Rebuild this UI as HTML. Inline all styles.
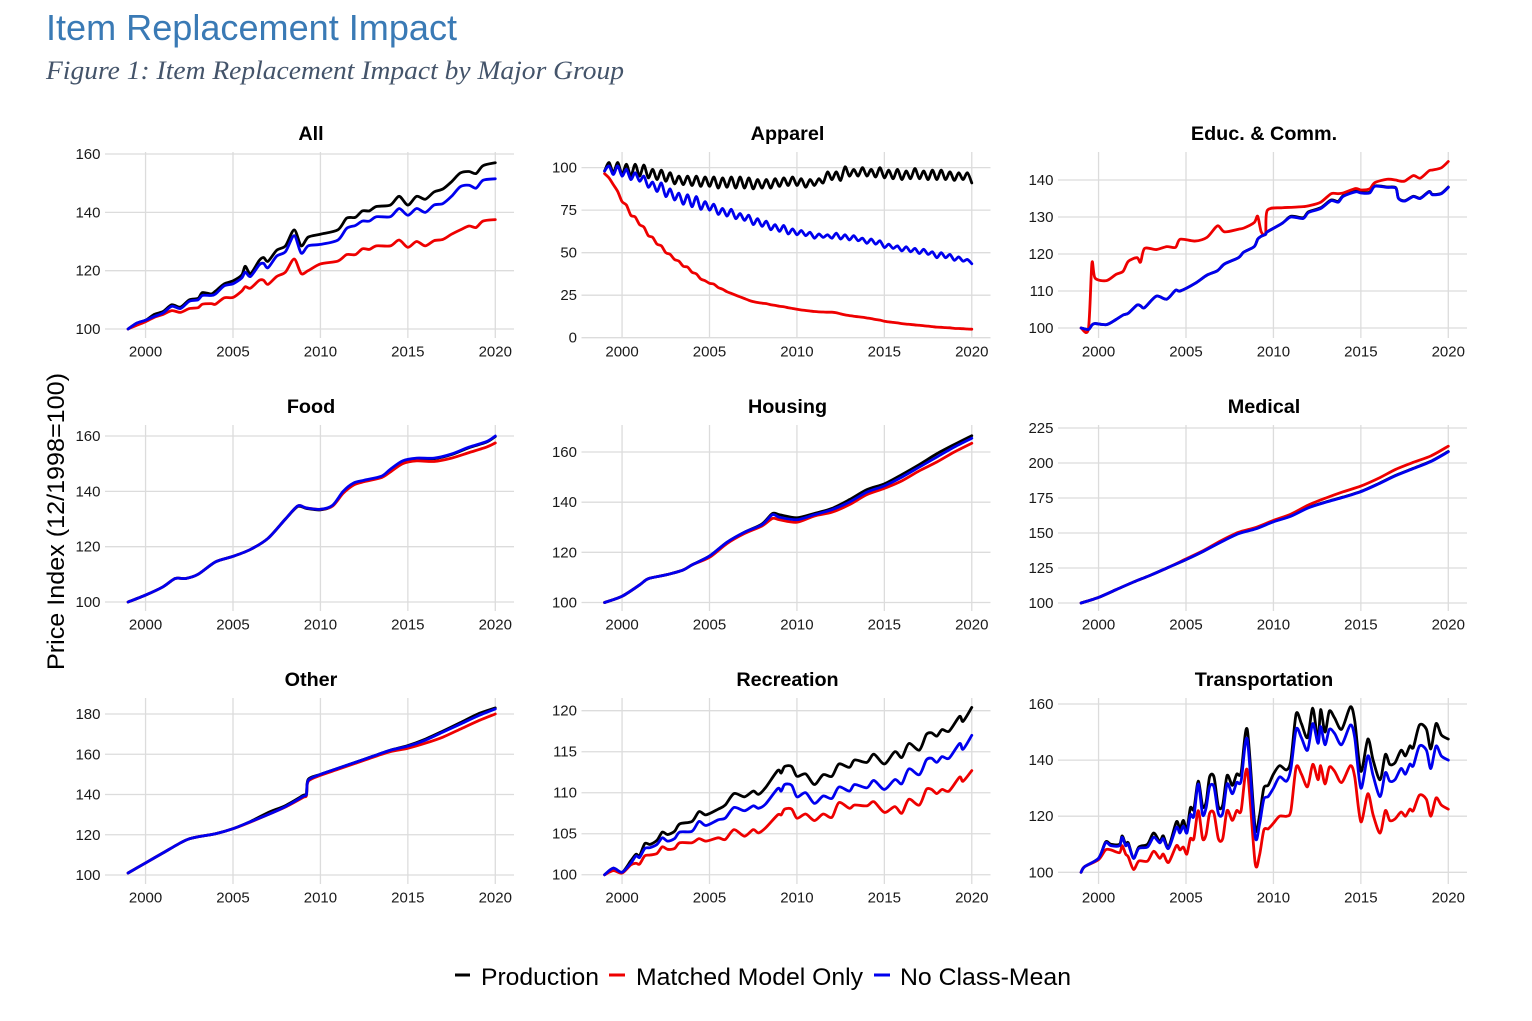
<!DOCTYPE html>
<html lang="en">
<head>
<meta charset="utf-8">
<title>Item Replacement Impact</title>
<style>
html,body{margin:0;padding:0;background:#fff;}
svg{display:block;font-family:"Liberation Sans",sans-serif;}
</style>
</head>
<body>
<svg id="figure" width="1532" height="1021" viewBox="0 0 1532 1021" xmlns="http://www.w3.org/2000/svg">
  <text x="46" y="40" font-size="36" fill="#3a7ab5" textLength="411" lengthAdjust="spacingAndGlyphs">Item Replacement Impact</text>
  <text x="46" y="79" font-family="'Liberation Serif',serif" font-style="italic" font-size="26" fill="#44546a" textLength="578" lengthAdjust="spacingAndGlyphs">Figure 1: Item Replacement Impact by Major Group</text>
  <text transform="translate(64,521.5) rotate(-90)" text-anchor="middle" font-size="24" fill="#000" textLength="297" lengthAdjust="spacingAndGlyphs">Price Index (12/1998=100)</text>
  <g id="panels"></g>
  <g>
    <g>
      <line x1="455" x2="470" y1="975" y2="975" stroke="#000" stroke-width="3"/>
      <text x="481" y="985" font-size="24" textLength="118" lengthAdjust="spacingAndGlyphs">Production</text>
    </g>
    <g>
      <line x1="609" x2="625" y1="975" y2="975" stroke="#ee0000" stroke-width="3"/>
      <text x="636" y="985" font-size="24" textLength="227" lengthAdjust="spacingAndGlyphs">Matched Model Only</text>
    </g>
    <g>
      <line x1="874" x2="890" y1="975" y2="975" stroke="#0000ee" stroke-width="3"/>
      <text x="900" y="985" font-size="24" textLength="171" lengthAdjust="spacingAndGlyphs">No Class-Mean</text>
    </g>
  </g>
</svg>
<script>
// ---------- Data ----------
const xTicks = [2000, 2005, 2010, 2015, 2020];
const seriesNames = ['production', 'matched-model', 'no-class-mean'];

// All
const allYears = [1999,1999.5,2000,2000.5,2001,2001.5,2002,2002.5,2003,2003.25,2003.75,2004,2004.5,2005,2005.5,2005.7,2006,2006.5,2006.75,2007,2007.5,2008,2008.5,2008.9,2009.3,2010,2011,2011.5,2012,2012.4,2012.8,2013.2,2014,2014.5,2015,2015.5,2016,2016.5,2017,2017.5,2018,2018.5,2018.9,2019.3,2020];
const allProduction = [100,102,103,105,106,108.3,107.5,110,110.5,112.5,112,113,115.5,116.5,118.5,121.5,119,123.5,124.5,123.2,127,128.5,134,128.5,131.5,132.5,134,138,138.3,140.5,140.5,142,142.5,145.5,142.5,145.5,144.5,147,148,150.5,153.5,154,153.3,156,157];
const allMatched = [100,101.3,102.5,104,105,106.3,105.7,107,107.3,108.5,108.7,108.5,110.7,110.8,113,114.5,114,116.7,116.7,115.3,118,119.5,124,119,120,122.3,123.3,125.5,125.5,127.5,127.3,128.5,128.5,130.5,128,130,128.5,130.3,130.7,132.5,134,135.3,134.8,137,137.5];
const allNoClass = [100,102,103,104.3,105.5,107.8,107,109.5,110,111.5,111.5,112,114.8,115.5,117.5,119.5,118,122,122.5,121,125,126.5,132,126,128.5,129,130.5,134.5,135.5,137,137,138.5,138.5,141.3,139,141.3,140,142.5,143,145.5,148.8,149.3,148.3,151,151.5];
const allTicks = [100,120,140,160];

// Apparel (quarterly)
const apparelYears = [1999,1999.25,1999.5,1999.75,2000,2000.25,2000.5,2000.75,2001,2001.25,2001.5,2001.75,2002,2002.25,2002.5,2002.75,2003,2003.25,2003.5,2003.75,2004,2004.25,2004.5,2004.75,2005,2005.25,2005.5,2005.75,2006,2006.25,2006.5,2006.75,2007,2007.25,2007.5,2007.75,2008,2008.25,2008.5,2008.75,2009,2009.25,2009.5,2009.75,2010,2010.25,2010.5,2010.75,2011,2011.25,2011.5,2011.75,2012,2012.25,2012.5,2012.75,2013,2013.25,2013.5,2013.75,2014,2014.25,2014.5,2014.75,2015,2015.25,2015.5,2015.75,2016,2016.25,2016.5,2016.75,2017,2017.25,2017.5,2017.75,2018,2018.25,2018.5,2018.75,2019,2019.25,2019.5,2019.75,2020];
const apparelProduction = [98,103,97,103, 96,102,95,102, 95,101.5,94,99, 93,98.5,92,97, 90.5,95,90,95, 89.5,95,89,94.5, 89,94.5,88,94, 88.5,94.5,88,94.5, 88,94,87.5,93, 88,93,88,93.5, 89,94,89.5,94.5, 89.5,93.5,88.5,93, 89.5,93.5,91,97.5, 93,97.5,92.5,100.5, 95,99,95,100, 95,99,94.5,100, 94,98.5,93.5,99, 93,98,93.5,99.5, 93.5,98,93,98.5, 93,98.5,93,97.5, 92.5,97,93,97, 91];
const apparelMatched = [96.5,94,90,86, 80,78,72,71, 66.5,65,60,59, 55,54,50,49, 46,45,42,41.5, 38.5,37.5,34.5,33.5, 32,31.5,29.5,28.5, 27,26,25,24, 23,22,21.2,20.7, 20.3,20,19.4,19, 18.5,18.2,17.6,17.2, 16.7,16.3,16,15.7, 15.4,15.2,15.1,15, 15,14.7,14,13.4, 13,12.6,12.3,12, 11.6,11.2,10.7,10.3, 9.7,9.3,9,8.7, 8.3,8,7.8,7.5, 7.3,7,6.8,6.5, 6.2,6.1,5.9,5.8, 5.5,5.4,5.3,5.1, 5];
const apparelNoClass = [98,101,96,101, 95,99,93,97, 92,95,88.5,91.5, 86,91,83,87.5, 81,85,78.5,84, 77,83,75.5,80, 75,78.5,72.5,76, 71.5,75.5,70,73, 69,72,66.5,70, 65.5,68.5,63.5,66.5, 62.5,66,61,64, 60.5,63,60,62, 58.5,61,59,60.5, 58.5,61.5,58,60.5, 57.5,60,57,58.5, 55.5,58,55,57, 53,55,52.5,54, 51,53.5,50.5,52.5, 49.5,52,49,50.5, 47,50,47,49, 45.5,47.5,45,46, 43.5];
const apparelTicks = [0,25,50,75,100];

// Educ. & Comm.
const educYears = [1999,1999.42,1999.62,1999.8,2000.45,2001,2001.4,2001.7,2002.2,2002.4,2002.63,2003.3,2003.9,2004.4,2004.67,2005.5,2006.2,2006.8,2007.2,2008,2008.3,2008.9,2009.1,2009.3,2009.55,2009.65,2010.5,2011,2011.7,2012,2012.7,2013.3,2013.7,2014,2014.7,2015,2015.5,2015.8,2016.5,2017,2017.15,2017.5,2018,2018.4,2018.9,2019.1,2019.6,2020];
const educProduction = [100,99.6,100.8,101.2,100.9,102.3,103.5,104,106.2,106,105.5,108.6,107.8,110.2,110,112,114.3,115.5,117.3,119,120.5,122,124,124.8,125.3,126,128.3,130.2,129.8,131.4,132.5,134.6,134.2,135.8,137,136.7,136.7,138.4,138.1,137.9,135.1,134.4,135.6,135.1,136.9,136.1,136.4,138.1];
const educMatched = [100,99.8,117.5,113.5,112.8,114.5,115.3,118,119,117.8,121.5,121.2,122,121.8,124,123.5,124.5,127.6,126,126.7,127,128.5,130.2,126,125.5,131.8,132.5,132.6,132.8,133,134,136.3,136.3,136.5,137.7,137.3,137.6,139.3,140.2,140,139.8,139.7,141.2,140.5,142.5,142.7,143.3,145];
const educNoClass = [100,99.6,100.8,101.2,100.9,102.3,103.5,104,106.2,106,105.5,108.6,107.8,110.2,110,112,114.3,115.5,117.3,119,120.5,122,124,124.8,125.3,126,128.3,130,129.6,131.2,132.3,134.4,134,135.6,136.8,136.5,136.5,138.3,138,137.8,135,134.3,135.5,135,136.8,136,136.3,138];
const educTicks = [100,110,120,130,140];

// Food
const foodYears = [1999,2000,2001,2001.7,2002.3,2003,2004,2005,2006,2007,2008,2008.7,2009.2,2010,2010.7,2011.3,2011.9,2012.5,2013.5,2014,2014.7,2015.5,2016.5,2017.5,2018.5,2019.5,2020];
const foodProduction = [100,102.5,105.5,108.5,108.5,110,114.5,116.5,119,123,130,134.5,133.8,133.3,134.8,139.8,142.8,143.8,145.3,147.8,150.8,151.8,151.8,153.3,155.8,157.8,159.8];
const foodMatched = [100,102.5,105.5,108.5,108.5,110,114.5,116.5,119,123,130,134.7,134,133.5,134.7,139.3,142.3,143.5,145,147,150,151,150.8,152,154,156,157.5];
const foodNoClass = [100,102.5,105.5,108.5,108.5,110,114.5,116.5,119,123,130,134.7,134,133.5,135,140,143,144,145.5,148,151,152,152,153.5,156,158,160];
const foodTicks = [100,120,140,160];

// Housing
const housingYears = [1999,2000,2001,2001.5,2002.5,2003.5,2004,2005,2006,2007,2008,2008.6,2009,2010,2011,2012,2013,2014,2015,2016,2017,2018,2019,2020];
const housingProduction = [100,102.5,107,109.5,111,113,115,118.5,124,128,131.3,135.5,135,133.8,135.5,137.5,141,145,147.3,151,155,159.3,163,166.5];
const housingMatched = [100,102.5,107,109.5,111,113,115,118,123.5,127.5,130.5,133.5,133,132,134.5,136,139,143,145.5,148.5,152.5,156,160,163.5];
const housingNoClass = [100,102.5,107,109.5,111,113,115,118.5,124,128,131,135,134,133,135,137,140,144,146.5,150,154,158,162,165.5];
const housingTicks = [100,120,140,160];

// Medical
const medicalYears = [1999,2000,2001,2002,2003,2004,2005,2006,2007,2008,2009,2010,2011,2012,2013,2014,2015,2016,2017,2018,2019,2020];
const medicalProduction = [100,104,109.5,115,120,125.5,131,137,143.7,149.7,153.2,158.2,162.2,168.2,172.2,175.7,179.7,185.2,191.2,196.2,201.2,208.2];
const medicalMatched = [100,104,109.5,115,120,125.5,131.5,137.5,144.5,150.5,154,159,163.5,170,175,179.5,183.5,189,195.5,200.5,205,212];
const medicalNoClass = [100,104,109.5,115,120,125.5,131,137,143.5,149.5,153,158,162,168,172,175.5,179.5,185,191,196,201,208];
const medicalTicks = [100,125,150,175,200,225];

// Other
const otherYears = [1999,2000,2001,2002,2002.5,2003,2004,2005,2006,2007,2008,2009,2009.2,2009.3,2010,2011,2012,2013,2014,2015,2016,2017,2018,2019,2020];
const otherProduction = [101,106,111,116,118,119,120.5,123,126.6,131,134.5,139.5,140.5,147.5,150,153,156,159,162,164.3,167.5,171.5,175.7,180,183];
const otherMatched = [101,106,111,116,118,119,120.5,123,126.3,130,133.8,138.5,139.5,146.5,149.5,152.5,155.5,158.5,161.3,163,165.5,168.5,172.5,176.5,180];
const otherNoClass = [101,106,111,116,118,119,120.5,123,126.5,130,134,139,140,147,150,153,156,159,162,164,167,171,175,179,182.5];
const otherTicks = [100,120,140,160,180];

// Recreation
const recreationYears = [1999,1999.5,2000,2000.5,2000.8,2001,2001.3,2001.6,2002,2002.3,2002.6,2003,2003.3,2004,2004.4,2004.8,2005.5,2005.9,2006.4,2007,2007.5,2007.8,2008.2,2008.9,2009.1,2009.3,2009.7,2010,2010.5,2011,2011.5,2012,2012.4,2013,2013.3,2014,2014.4,2015,2015.6,2016,2016.4,2017,2017.4,2017.7,2018,2018.3,2018.7,2019.3,2019.5,2020];
const recreationProduction = [100,100.8,100.3,101.7,102.5,102.3,103.8,103.7,104.2,105.2,104.9,105.3,106.2,106.5,107.7,107.3,108,108.5,109.9,109.5,110.2,109.8,110.6,112.7,112.4,113.2,113.2,112,112.3,111,112.2,112,113.5,113.1,114,113.7,114.7,113.5,115,114.3,116,115.2,117.1,117.3,116.9,117.7,117.5,119.3,118.7,120.4];
const recreationMatched = [100,100.5,100.2,101.2,101.4,101.3,102.3,102.4,102.6,103.4,103.1,103.2,103.9,103.9,104.4,104.1,104.5,104.3,105.5,104.7,105.5,105.1,105.7,107.3,107.3,108,108,106.9,107.4,106.6,107.4,107,108.8,108.1,108.5,108.4,108.9,107.6,108.3,107.5,109.2,108.5,110.4,110.4,109.9,110.4,110.2,111.9,111.4,112.7];
const recreationNoClass = [100,100.8,100.3,101.4,102.3,102.1,103.2,103.3,103.7,104.5,104.1,104.4,105.2,105.3,106.5,106,106.7,106.9,108.2,107.8,108.4,108.1,108.6,110.5,110.2,111,110.9,109.5,110,108.7,109.6,109.3,110.7,110.2,111,110.6,111.5,110.4,111.6,111.1,112.9,112.2,114,114.2,113.7,114.4,114.2,116,115.3,117];
const recreationTicks = [100,105,110,115,120];

// Transportation
const transportYears = [1999,1999.2,2000,2000.4,2000.7,2001.2,2001.35,2001.55,2001.7,2002,2002.3,2002.8,2003.15,2003.5,2003.7,2004,2004.45,2004.65,2004.85,2005.05,2005.25,2005.45,2005.7,2005.95,2006.15,2006.35,2006.6,2006.85,2007.1,2007.35,2007.65,2007.9,2008.15,2008.5,2008.95,2009.2,2009.45,2009.7,2010,2010.35,2010.75,2011,2011.3,2011.6,2011.95,2012.25,2012.55,2012.7,2012.95,2013.2,2013.5,2013.9,2014.4,2014.65,2015,2015.4,2015.7,2016.1,2016.4,2016.65,2016.95,2017.3,2017.55,2017.8,2018,2018.35,2018.75,2019,2019.3,2019.6,2020];
const transportProduction = [100,102,105,110.8,110,110,113,110,110.5,105,109,110,114,111,113,109,118,115.5,118.5,115,123,122.5,132.5,123.5,125,134,134,123.5,124,134.5,131,135,135.5,151,116,120,130,131,135,138,136.5,140,156.5,153,148,158.5,147,158,150,157.5,155,151,159,154,136,147.5,140,133,142,138.5,139,143.5,141.5,145,144.5,152.5,151,144,153,149,147.5];
const transportMatched = [100,102,104.5,108,108,107,109.5,106.5,105.5,101,104,104,107.5,105,106.5,103.5,109.5,108,109,106.5,112,112,122,112,113.5,121,121,112,112,122,118.5,122,122,136.5,103.5,106,115,115.5,117.5,120,120,122,137.5,135,130.5,138.5,133,138,131.5,137.5,136,132,138,134,118,128,120.5,114,122,118.5,119,121.5,120,122.5,122,127.5,126,120,126.5,124,122.5];
const transportNoClass = [100,102,105,110.5,109.5,109.5,112.5,109.5,110,105,108.5,109,112.5,110.5,112,108.5,116,114,116.5,114,120.5,120,131.5,120.5,123,130.5,130.5,121,121,131.5,128,132,132.5,147.5,113,117,126,127,130,134,132.5,137,151,148,143.5,153,146,152,145.5,151,149.5,145.5,152.5,148,130,141.5,134.5,127,135.5,132.5,133,137,135,138.5,138,145,143.5,137,145,141.5,140];
const transportTicks = [100,120,140,160];

// Visible value range of each panel's y axis
const allRange = [96.91,160.69];
const apparelRange = [-0.18,109.2];
const educRange = [97.3,147.57];
const foodRange = [96.75,163.98];
const housingRange = [96.61,170.77];
const medicalRange = [94.29,227.14];
const otherRange = [95.53,187.95];
const recreationRange = [98.87,121.55];
const transportRange = [95.83,162.14];
const yearRange = [1997.68,2021.07];

// ---------- Layout and styling ----------
const SVG_NS = 'http://www.w3.org/2000/svg';
const colLeft = [105, 581.5, 1058];
const rowTop = [152, 425, 698];
const panelW = 409;
const panelH = 186;
const seriesColor = ['#000000', '#ee0000', '#0000ee'];
const gridColor = '#dcdcdc';

const panels = [
  {slug:'all', title:'All', years:allYears, lines:[allProduction,allMatched,allNoClass], ticks:allTicks, range:allRange},
  {slug:'apparel', title:'Apparel', years:apparelYears, lines:[apparelProduction,apparelMatched,apparelNoClass], ticks:apparelTicks, range:apparelRange},
  {slug:'educ-comm', title:'Educ. & Comm.', years:educYears, lines:[educProduction,educMatched,educNoClass], ticks:educTicks, range:educRange},
  {slug:'food', title:'Food', years:foodYears, lines:[foodProduction,foodMatched,foodNoClass], ticks:foodTicks, range:foodRange},
  {slug:'housing', title:'Housing', years:housingYears, lines:[housingProduction,housingMatched,housingNoClass], ticks:housingTicks, range:housingRange},
  {slug:'medical', title:'Medical', years:medicalYears, lines:[medicalProduction,medicalMatched,medicalNoClass], ticks:medicalTicks, range:medicalRange},
  {slug:'other', title:'Other', years:otherYears, lines:[otherProduction,otherMatched,otherNoClass], ticks:otherTicks, range:otherRange},
  {slug:'recreation', title:'Recreation', years:recreationYears, lines:[recreationProduction,recreationMatched,recreationNoClass], ticks:recreationTicks, range:recreationRange},
  {slug:'transportation', title:'Transportation', years:transportYears, lines:[transportProduction,transportMatched,transportNoClass], ticks:transportTicks, range:transportRange}
];

function make(tag, attrs, parent) {
  const el = document.createElementNS(SVG_NS, tag);
  for (const k in attrs) el.setAttribute(k, attrs[k]);
  parent.appendChild(el);
  return el;
}

// Rounded line through the given points (Catmull-Rom style control points)
function smoothPath(pts) {
  const k = 0.14;
  let d = 'M' + pts[0][0].toFixed(2) + ' ' + pts[0][1].toFixed(2);
  for (let i = 0; i < pts.length - 1; i++) {
    const p0 = pts[Math.max(i - 1, 0)];
    const p1 = pts[i];
    const p2 = pts[i + 1];
    const p3 = pts[Math.min(i + 2, pts.length - 1)];
    const c1x = p1[0] + (p2[0] - p0[0]) * k;
    const c1y = p1[1] + (p2[1] - p0[1]) * k;
    const c2x = p2[0] - (p3[0] - p1[0]) * k;
    const c2y = p2[1] - (p3[1] - p1[1]) * k;
    d += 'C' + c1x.toFixed(2) + ' ' + c1y.toFixed(2) + ' ' + c2x.toFixed(2) + ' ' + c2y.toFixed(2) + ' ' + p2[0].toFixed(2) + ' ' + p2[1].toFixed(2);
  }
  return d;
}

const root = document.getElementById('panels');

panels.forEach(function (p, i) {
  const left = colLeft[i % 3];
  const top = rowTop[Math.floor(i / 3)];
  const xScale = function (v) { return left + (v - yearRange[0]) / (yearRange[1] - yearRange[0]) * panelW; };
  const yScale = function (v) { return top + panelH - (v - p.range[0]) / (p.range[1] - p.range[0]) * panelH; };

  const g = make('g', {}, root);
  
  

  const title = make('text', {x: left + panelW / 2 + 1.5, y: top - 12, 'text-anchor': 'middle', 'font-size': 19.8, 'font-weight': 700, fill: '#000'}, g);
  
  
  title.textContent = p.title;

  p.ticks.forEach(function (t) {
    const grid = make('line', {x1: left, x2: left + panelW, y1: yScale(t), y2: yScale(t), stroke: gridColor, 'stroke-width': 1.3}, g);
    
    
    const label = make('text', {x: left - 4.5, y: yScale(t) + 5, 'text-anchor': 'end', 'font-size': 15, fill: '#1a1a1a'}, g);
    
    
    label.textContent = t;
  });

  xTicks.forEach(function (t) {
    const grid = make('line', {x1: xScale(t), x2: xScale(t), y1: top, y2: top + panelH, stroke: gridColor, 'stroke-width': 1.3}, g);
    
    
    const label = make('text', {x: xScale(t), y: top + panelH + 18.5, 'text-anchor': 'middle', 'font-size': 15, fill: '#1a1a1a'}, g);
    
    
    label.textContent = t;
  });

  p.lines.forEach(function (values, s) {
    const pts = values.map(function (v, j) { return [xScale(p.years[j]), yScale(v)]; });
    const line = make('path', {d: smoothPath(pts), fill: 'none', stroke: seriesColor[s], 'stroke-width': 2.8, 'stroke-linejoin': 'round', 'stroke-linecap': 'round'}, g);
    
    
  });
});
</script>
</body>
</html>
